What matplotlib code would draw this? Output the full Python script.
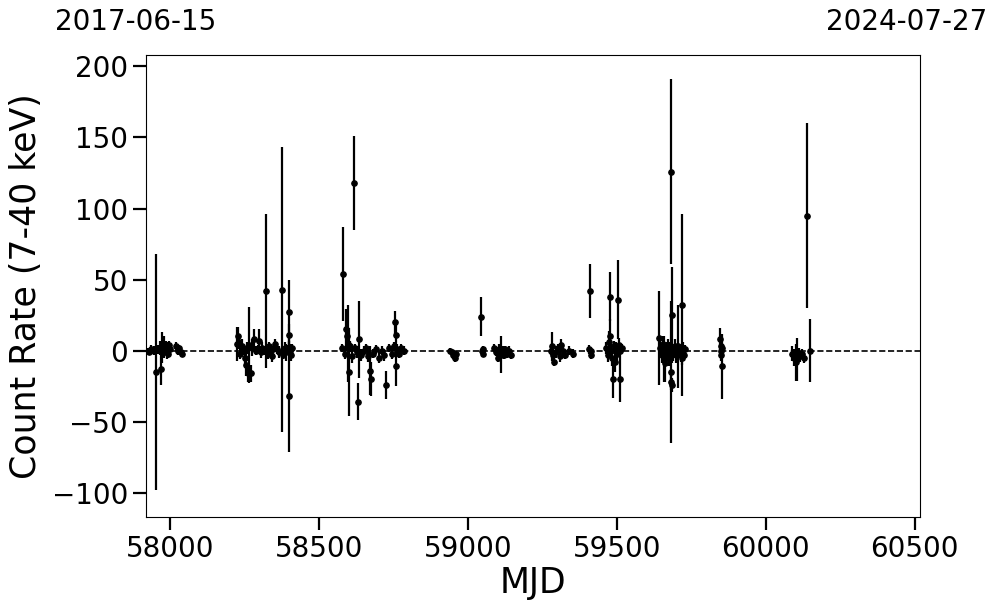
import matplotlib
matplotlib.use('Agg')
import matplotlib.pyplot as plt

# light curve values (MJD, count rate, 1-sigma error)
mjd = [57926, 57930, 57936, 57945, 57952, 57960, 57965, 57970, 57973, 57978,
       57981, 57985, 57988, 57992, 57995, 58000, 58020, 58025, 58030, 58035,
       58040,
       58226, 58228, 58232, 58236, 58240, 58246, 58250, 58255, 58258, 58262,
       58266, 58270, 58275, 58280, 58288, 58295, 58299, 58305, 58310, 58315,
       58321, 58327, 58332, 58338, 58343, 58348, 58353, 58360, 58367, 58375,
       58380, 58385, 58390, 58396, 58398, 58399, 58400, 58403, 58407, 58410,
       58578, 58582, 58586, 58591, 58594, 58598, 58600, 58605, 58610, 58616,
       58622, 58628, 58630, 58635, 58642, 58650, 58658, 58664, 58671, 58673,
       58680, 58690, 58700, 58710, 58718, 58724, 58735, 58745, 58752, 58755,
       58757, 58758, 58762, 58768, 58775, 58785,
       58940, 58946, 58950, 58955, 58960,
       59045, 59047, 59049, 59052,
       59088, 59095, 59100, 59105, 59110, 59118, 59120, 59126, 59132, 59138, 59143,
       59278, 59282, 59285, 59290, 59296, 59303, 59308, 59312, 59318, 59325,
       59340, 59352,
       59408, 59411, 59412, 59414,
       59465, 59470, 59474, 59477, 59478, 59481, 59484, 59487, 59490, 59494,
       59498, 59501, 59504, 59506, 59509, 59512, 59516,
       59641, 59645, 59650, 59655, 59660, 59662, 59667, 59672, 59676, 59680,
       59682, 59682, 59683, 59684, 59685, 59690, 59695, 59700, 59706, 59710,
       59714, 59718, 59720, 59723, 59726, 59729,
       59847, 59849, 59850, 59851, 59852, 59853,
       60089, 60094, 60100, 60106, 60111, 60116, 60121, 60127, 60139, 60147]

rate = [0, -1, 1, 0, -15, 1, 2, -13, 2, 5,
        -1, 3, 0, -2, 4, 1, 3, 0, 2, -1,
        -2,
        5, 10, 6, -2, 3, 0, -5, -10, 2, -16,
        4, -16, 2, 8, 0, 1, 7, -1, 2, 0,
        42, -2, 3, 0, -4, 2, 5, 1, -1, 43,
        -3, 2, -1, 1, 27, 11, -32, 0, -3, 2,
        2, 54, -2, 15, 10, 5, -15, 3, -4, 118,
        2, -1, -36, 8, -3, 0, 2, -4, -14, -20,
        -2, 1, -5, 0, -3, -24, 2, -2, 3, 20,
        11, -11, 1, -2, 2, 0,
        0, -1, -3, -5, -2,
        24, 0, -2, 1,
        2, -1, -5, 1, -3, 0, -3, 1, -2, 0, -3,
        0, 3, -3, -8, -1, 2, -4, 4, 0, -3,
        0, -2,
        1, 42, -3, 0,
        2, -3, 6, 38, 10, 0, -5, -20, 3, -8,
        1, -2, 36, 4, -20, 0, 2,
        9, 2, -3, 5, -6, -9, 0, 3, -5, 2,
        126, -22, -15, -24, 25, -2, 3, -3, 3, -1,
        -2, 32, -5, 2, -3, 1,
        8, 0, -3, 3, -11, 2,
        -2, -5, -8, -6, -3, -4, -2, -5, 95, 0]

err = [2, 2, 3, 3, 83, 3, 5, 11, 11, 5,
       4, 4, 6, 3, 3, 3, 3, 3, 2, 2,
       2,
       12, 7, 5, 4, 5, 3, 6, 8, 4, 6,
       27, 6, 6, 7, 3, 3, 8, 4, 4, 3,
       54, 4, 3, 4, 4, 3, 3, 3, 4, 100,
       3, 4, 6, 3, 23, 8, 39, 5, 4, 3,
       3, 33, 4, 14, 10, 27, 31, 4, 5, 33,
       3, 4, 13, 27, 4, 3, 3, 4, 17, 12,
       3, 3, 4, 3, 4, 10, 3, 4, 3, 8,
       8, 14, 4, 3, 3, 3,
       2, 2, 3, 3, 2,
       14, 2, 2, 2,
       3, 3, 3, 4, 13, 3, 3, 2, 3, 3, 3,
       3, 10, 4, 3, 4, 3, 4, 4, 3, 3,
       3, 3,
       3, 19, 3, 2,
       4, 5, 8, 17, 12, 5, 6, 13, 4, 7,
       5, 6, 28, 5, 16, 4, 3,
       33, 5, 6, 5, 16, 13, 6, 5, 6, 4,
       65, 6, 50, 5, 34, 5, 5, 6, 29, 4,
       6, 64, 5, 4, 4, 3,
       8, 3, 4, 4, 23, 3,
       5, 6, 13, 15, 5, 4, 3, 4, 65, 22]

start_date = '2017-06-15'
end_date = '2024-07-27'
mjd_lo, mjd_hi = 57919, 60518

fig = plt.figure(figsize=(9.97, 6.13), dpi=100)
ax = fig.add_axes([146/997, 1 - 517/613, (920 - 146)/997, (517 - 55)/613])

ax.errorbar(mjd, rate, yerr=err, fmt='o', color='k', ms=3.8,
            elinewidth=1.6, capsize=0, zorder=3)
ax.axhline(0, color='k', ls='--', lw=1.2, zorder=2)

ax.set_xlim(mjd_lo, mjd_hi)
ax.set_ylim(-117, 208)
ax.set_xticks([58000, 58500, 59000, 59500, 60000, 60500])
ax.set_yticks([-100, -50, 0, 50, 100, 150, 200])
ax.tick_params(axis='both', labelsize=20, length=9.5, width=1.6)
ax.set_xlabel('MJD', fontsize=25, labelpad=2)
ax.set_ylabel('Count Rate (7-40 keV)', fontsize=25, labelpad=6)

fig.text(136/997, 1 - 22/613, start_date, fontsize=20, ha='center', va='center')
fig.text(907/997, 1 - 22/613, end_date, fontsize=20, ha='center', va='center')

fig.savefig('out.png', dpi=100)
